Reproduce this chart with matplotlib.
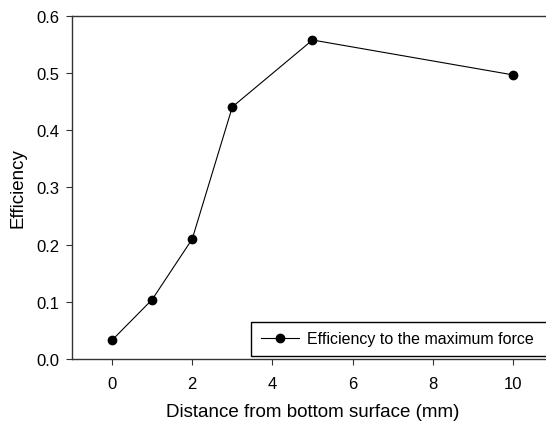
import matplotlib
matplotlib.use("Agg")
import matplotlib.pyplot as plt

# Данные
distance = [0, 1, 2, 3, 5, 10]
efficiency = [0.033, 0.104, 0.210, 0.441, 0.558, 0.497]
x_ticks = [0, 2, 4, 6, 8, 10]
y_ticks = [0.0, 0.1, 0.2, 0.3, 0.4, 0.5, 0.6]

plt.rcParams['font.family'] = ['Liberation Sans', 'DejaVu Sans']
plt.rcParams['font.size'] = 12

fig = plt.figure(figsize=(5.46, 4.27), dpi=100)
# оси выходят за правый край картинки, как на исходнике
ax = fig.add_axes([72 / 546, 1 - 360 / 427, 481 / 546, 343 / 427])

ax.plot(distance, efficiency, color='black', linewidth=0.8, marker='o',
        markersize=6, markerfacecolor='black', markeredgecolor='black',
        label='Efficiency to the maximum force')

ax.set_xlim(-1, 11)
ax.set_ylim(0, 0.6)
ax.set_xticks(x_ticks)
ax.set_yticks(y_ticks)
ax.set_yticklabels([f'{v:.1f}' for v in y_ticks])

for side in ['left', 'bottom', 'top']:
    ax.spines[side].set_color('#333333')
    ax.spines[side].set_linewidth(1.0)
ax.spines['right'].set_visible(False)
ax.tick_params(direction='out', length=4, width=0.8, color='#333333')
ax.tick_params(axis='x', pad=8)
ax.tick_params(axis='y', pad=5)

ax.set_xlabel('Distance from bottom surface (mm)', fontsize=13.5, labelpad=9)
ax.set_ylabel('Efficiency', fontsize=13.5, labelpad=7)

# рамка легенды уходит за правый край, как на исходнике
leg = ax.legend(loc='lower left',
                bbox_to_anchor=(251 / 546, 1 - 357 / 427, 302 / 546, 0),
                bbox_transform=fig.transFigure, borderaxespad=0, mode='expand',
                fancybox=False, framealpha=1, edgecolor='black',
                fontsize=11.5, handlelength=2.4, handletextpad=0.5,
                borderpad=0.6)
leg.get_frame().set_linewidth(1.0)

fig.savefig('out.png', dpi=100)
